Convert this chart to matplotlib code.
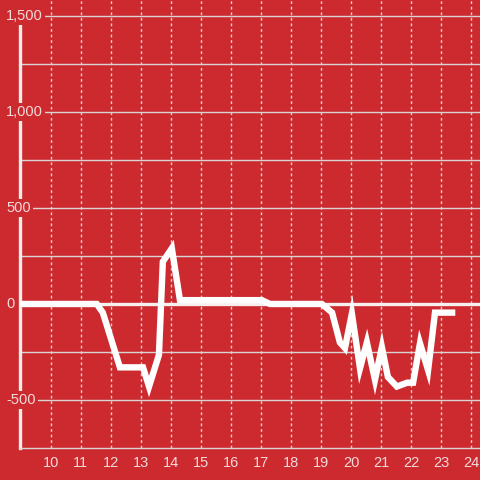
import matplotlib
matplotlib.use("Agg")
import matplotlib.pyplot as plt

# hour of day vs value
hours = [9.0, 11.53, 11.73, 12.3, 13.07, 13.27, 13.6, 13.73, 14.03, 14.3,
         17.03, 17.3, 19.03, 19.37, 19.63, 19.8, 20.03, 20.3, 20.53, 20.8,
         21.03, 21.23, 21.53, 21.87, 22.07, 22.3, 22.57, 22.8, 23.37]
values = [0, 0, -45, -330, -330, -430, -265, 220, 290, 20,
          20, 0, 0, -45, -200, -230, -50, -335, -200, -395,
          -225, -380, -430, -410, -410, -205, -345, -45, -45]

x_ticks = list(range(10, 25))
y_major = [-500, 0, 500, 1000, 1500]
y_labels = ["-500", "0", "500", "1,000", "1,500"]
y_minor = [-250, 250, 750, 1250]

bg = "#cc2a2f"
txt = "#f3dada"
grid_col = "#d9d4d4"

plt.rcParams["font.family"] = ["Liberation Sans", "DejaVu Sans"]

fig = plt.figure(figsize=(4.8, 4.8), dpi=100, facecolor=bg)
ax = fig.add_axes([20 / 480, 32 / 480, 460 / 480, 448 / 480], facecolor=bg)

ax.set_xlim(8.97, 24.3)
ax.set_ylim(-750, 1583)

# grid
for y in y_major + y_minor:
    if y == 0:
        continue
    ax.axhline(y, color=grid_col, lw=1, zorder=1)
for x in x_ticks:
    ax.axvline(x, color=grid_col, lw=1, ls=(0, (2, 2)), zorder=1)
ax.axhline(0, color="#f5efee", lw=2.4, zorder=2)

ax.plot(hours, values, color="white", lw=4.6, solid_joinstyle="miter", zorder=4)

# spines
for s in ["top", "right"]:
    ax.spines[s].set_visible(False)
ax.spines["left"].set_color("#f2eeee")
ax.spines["left"].set_linewidth(2.4)
ax.spines["left"].set_bounds(-750, 1500)
ax.spines["bottom"].set_color("#d9d4d4")
ax.spines["bottom"].set_linewidth(1)

ax.set_xticks(x_ticks)
ax.tick_params(axis="x", length=0, pad=6, labelsize=10.5, labelcolor=txt)
ax.set_yticks([])

# y labels sit over the axis line
trans = ax.get_yaxis_transform()
for y, lab in zip(y_major, y_labels):
    ax.text(-14 / 460, y, lab, transform=trans, ha="left", va="center",
            fontsize=10.5, color=txt, zorder=10, clip_on=False,
            bbox=dict(facecolor=bg, edgecolor="none", pad=1.5))

fig.savefig("out.png", dpi=100, facecolor=bg)
